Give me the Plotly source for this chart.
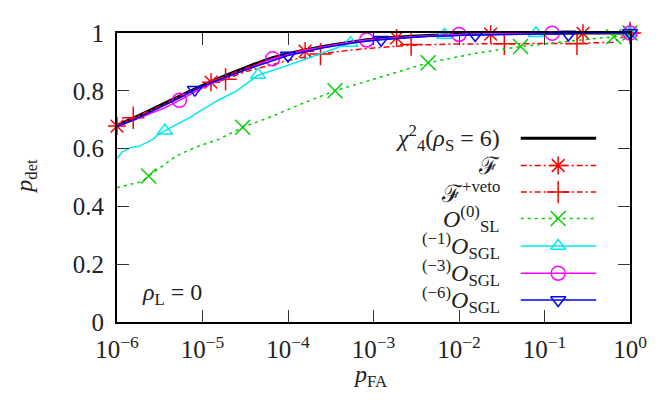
import plotly.graph_objects as go

# ---------------- data (log10 of p_FA, p_det) ----------------
chi_logx = [-6, -5.64, -5.25, -4.9, -4.55, -4.18, -3.79, -3.41, -3.02, -2.6, -2.0, -1.5, -1.0, -0.5, 0]
chi_y = [0.68, 0.729, 0.784, 0.832, 0.874, 0.915, 0.942, 0.962, 0.978, 0.988, 0.995, 0.998, 0.999, 1.0, 1.0]

f_logx = [-6, -5.8, -5.5, -5.2, -4.9, -4.6, -4.3, -4.0, -3.8, -3.5, -3.0, -2.73, -2.3, -1.63, -1.0, -0.55, 0]
f_y = [0.678, 0.705, 0.745, 0.79, 0.83, 0.866, 0.9, 0.925, 0.937, 0.955, 0.975, 0.983, 0.99, 0.996, 0.998, 0.999, 1.0]
f_mark_logx = [-6, -4.9, -3.8, -2.73, -1.63, -0.55, 0]
f_mark_y = [0.678, 0.83, 0.937, 0.983, 0.996, 0.999, 1.0]

fv_logx = [-6, -5.81, -5.5, -5.2, -5.0, -4.73, -4.5, -4.2, -4.0, -3.62, -3.3, -3.0, -2.56, -2.0, -1.47, -1.0, -0.62, -0.2, 0]
fv_y = [0.68, 0.707, 0.745, 0.79, 0.815, 0.84, 0.866, 0.89, 0.905, 0.927, 0.94, 0.948, 0.958, 0.962, 0.963, 0.963, 0.964, 0.968, 1.0]
fv_mark_logx = [-5.81, -4.73, -3.62, -2.56, -1.47, -0.62, 0]
fv_mark_y = [0.707, 0.84, 0.927, 0.96, 0.963, 0.963, 1.0]

sl_logx = [-6, -5.72, -5.63, -5.5, -5.31, -5.08, -4.81, -4.53, -4.2, -3.8, -3.45, -3.0, -2.36, -1.8, -1.28, -0.7, -0.19, 0]
sl_y = [0.465, 0.485, 0.505, 0.532, 0.574, 0.605, 0.632, 0.674, 0.71, 0.76, 0.80, 0.84, 0.897, 0.93, 0.953, 0.972, 0.987, 1.0]
sl_mark_logx = [-5.63, -4.53, -3.45, -2.36, -1.28, -0.19, 0]
sl_mark_y = [0.505, 0.674, 0.80, 0.897, 0.953, 0.987, 1.0]

g1_logx = [-6, -5.94, -5.83, -5.75, -5.58, -5.52, -5.44, -5.3, -5.15, -5.0, -4.8, -4.6, -4.35, -4.07, -3.76, -3.49, -3.27, -3.0, -2.6, -2.17, -1.6, -1.1, -0.5, 0]
g1_y = [0.566, 0.588, 0.605, 0.607, 0.632, 0.649, 0.662, 0.685, 0.707, 0.735, 0.77, 0.80, 0.854, 0.881, 0.915, 0.942, 0.965, 0.975, 0.985, 0.993, 0.997, 0.999, 1.0, 1.0]
g1_mark_logx = [-5.44, -4.35, -3.27, -2.17, -1.1, 0]
g1_mark_y = [0.662, 0.855, 0.965, 0.993, 0.999, 1.0]

g3_logx = [-6, -5.82, -5.64, -5.45, -5.27, -5.1, -4.9, -4.5, -4.18, -3.8, -3.4, -3.08, -2.5, -2.0, -1.5, -0.91, -0.4, 0]
g3_y = [0.675, 0.697, 0.717, 0.74, 0.767, 0.795, 0.825, 0.872, 0.911, 0.94, 0.962, 0.976, 0.988, 0.995, 0.998, 0.999, 1.0, 1.0]
g3_mark_logx = [-5.27, -4.18, -3.08, -2.0, -0.91, 0]
g3_mark_y = [0.767, 0.911, 0.976, 0.995, 0.999, 1.0]

g6_logx = [-6, -5.8, -5.64, -5.45, -5.27, -5.09, -4.9, -4.5, -4.0, -3.6, -3.2, -2.91, -2.4, -1.81, -1.2, -0.72, -0.3, 0]
g6_y = [0.677, 0.70, 0.722, 0.748, 0.775, 0.804, 0.828, 0.872, 0.922, 0.948, 0.968, 0.977, 0.988, 0.993, 0.997, 0.998, 1.0, 1.0]
g6_mark_logx = [-5.09, -4.0, -2.91, -1.81, -0.72, 0]
g6_mark_y = [0.804, 0.922, 0.977, 0.993, 0.995, 1.0]

x_tick_exps = [-6, -5, -4, -3, -2, -1, 0]
y_tick_vals = [0, 0.2, 0.4, 0.6, 0.8, 1]
y_tick_text = ["0", "0.2", "0.4", "0.6", "0.8", "1"]

legend_labels = [
    "<i>χ</i><sup>2</sup><sub>4</sub>(<i>ρ</i><sub>S</sub> = 6)",
    "ℱ",
    "ℱ<sup>+veto</sup>",
    "<i>O</i><sup>(0)</sup><sub>SL</sub>",
    "<sup>(−1)</sup><i>O</i><sub>SGL</sub>",
    "<sup>(−3)</sup><i>O</i><sub>SGL</sub>",
    "<sup>(−6)</sup><i>O</i><sub>SGL</sub>",
]

# ---------------- styles ----------------
FONT = "Liberation Serif, DejaVu Serif, serif"
RED, GREEN, CYAN, MAG, BLUE = "#ff0000", "#00d000", "#00e8f0", "#ff00ff", "#0000ff"
DASHDOT = "6px,3px,2px,3px"
DOTS = "3px,4px"

styles = [
    dict(color="black", width=3, dash="solid", symbol=None),
    dict(color=RED, width=1.5, dash=DASHDOT, symbol="asterisk-open"),
    dict(color=RED, width=1.5, dash=DASHDOT, symbol="cross-thin-open"),
    dict(color=GREEN, width=1.5, dash=DOTS, symbol="x-thin-open"),
    dict(color=CYAN, width=1.5, dash="solid", symbol="triangle-up-open"),
    dict(color=MAG, width=1.5, dash="solid", symbol="circle-open"),
    dict(color=BLUE, width=1.5, dash="solid", symbol="triangle-down-open"),
]
msize = {"asterisk-open": 15, "cross-thin-open": 16, "x-thin-open": 15,
         "triangle-up-open": 13, "circle-open": 14, "triangle-down-open": 13}

def tenpow(a):
    return [10 ** v for v in a]

series = [
    (chi_logx, chi_y, None, None),
    (f_logx, f_y, f_mark_logx, f_mark_y),
    (fv_logx, fv_y, fv_mark_logx, fv_mark_y),
    (sl_logx, sl_y, sl_mark_logx, sl_mark_y),
    (g1_logx, g1_y, g1_mark_logx, g1_mark_y),
    (g3_logx, g3_y, g3_mark_logx, g3_mark_y),
    (g6_logx, g6_y, g6_mark_logx, g6_mark_y),
]

fig = go.Figure()
for (lx, ly, mx, my), st in zip(series, styles):
    fig.add_trace(go.Scatter(
        x=tenpow(lx), y=ly, mode="lines",
        line=dict(color=st["color"], width=st["width"], dash=st["dash"],
                  shape="spline" if st["symbol"] is None else "linear"),
        showlegend=False, hoverinfo="skip"))
    if mx is not None:
        fig.add_trace(go.Scatter(
            x=tenpow(mx), y=my, mode="markers",
            marker=dict(symbol=st["symbol"], size=msize[st["symbol"]], color=st["color"],
                        line=dict(color=st["color"], width=1.5)),
            showlegend=False, hoverinfo="skip", cliponaxis=False))

# ---------------- custom legend (overlay axes in [0,1]) ----------------
row_y = [0.636, 0.5415, 0.4495, 0.358, 0.263, 0.169, 0.0764]
LX0, LX1, LXM, TX = 0.787, 0.934, 0.860, 0.75
for lab, st, ry in zip(legend_labels, styles, row_y):
    fig.add_trace(go.Scatter(
        x=[LX0, LX1], y=[ry, ry], mode="lines", xaxis="x2", yaxis="y2",
        line=dict(color=st["color"], width=st["width"], dash=st["dash"]),
        showlegend=False, hoverinfo="skip"))
    if st["symbol"] is not None:
        fig.add_trace(go.Scatter(
            x=[LXM], y=[ry], mode="markers", xaxis="x2", yaxis="y2",
            marker=dict(symbol=st["symbol"], size=msize[st["symbol"]], color=st["color"],
                        line=dict(color=st["color"], width=1.5)),
            showlegend=False, hoverinfo="skip"))
    fig.add_annotation(x=TX, y=ry, xref="paper", yref="paper", text=lab,
                       showarrow=False, xanchor="right", yanchor="middle",
                       font=dict(family=FONT, size=24, color="#222"))

fig.add_annotation(x=0.045, y=0.096, xref="paper", yref="paper",
                   text="<i>ρ</i><sub>L</sub> = 0", showarrow=False,
                   xanchor="left", yanchor="middle",
                   font=dict(family=FONT, size=24, color="#222"))
fig.add_annotation(x=-0.178, y=0.505, xref="paper", yref="paper",
                   text="<i>p</i><sub>det</sub>", showarrow=False, textangle=-90,
                   xanchor="center", yanchor="middle",
                   font=dict(family=FONT, size=24, color="#222"))
fig.add_annotation(x=0.494, y=-0.247, xref="paper", yref="paper",
                   text="<i>p</i><sub>FA</sub>", showarrow=False,
                   xanchor="center", yanchor="bottom",
                   font=dict(family=FONT, size=24, color="#222"))

axis_common = dict(showline=True, linewidth=2, linecolor="black", mirror="ticks",
                   ticks="inside", ticklen=12, tickwidth=1, tickcolor="#333",
                   showgrid=False, zeroline=False,
                   tickfont=dict(family=FONT, size=25, color="#222"))
# the page body adds an 8px offset; margins compensate so the plot area lands at x 117-633, y 21-322
fig.update_layout(
    width=651, height=389,
    margin=dict(l=109, r=26, t=13, b=75),
    paper_bgcolor="white", plot_bgcolor="white",
    xaxis=dict(type="log", range=[-6, 0],
               tickvals=tenpow(x_tick_exps),
               ticktext=["10<sup>%s</sup>" % (str(e).replace("-", "−")) for e in x_tick_exps],
               ticklabelstandoff=4, **axis_common),
    yaxis=dict(range=[0, 1], tickvals=y_tick_vals, ticktext=y_tick_text,
               ticklabelstandoff=6, **axis_common),
    xaxis2=dict(overlaying="x", range=[0, 1], visible=False, anchor="y2"),
    yaxis2=dict(overlaying="y", range=[0, 1], visible=False, anchor="x2"),
)

fig.write_html("out.html")
